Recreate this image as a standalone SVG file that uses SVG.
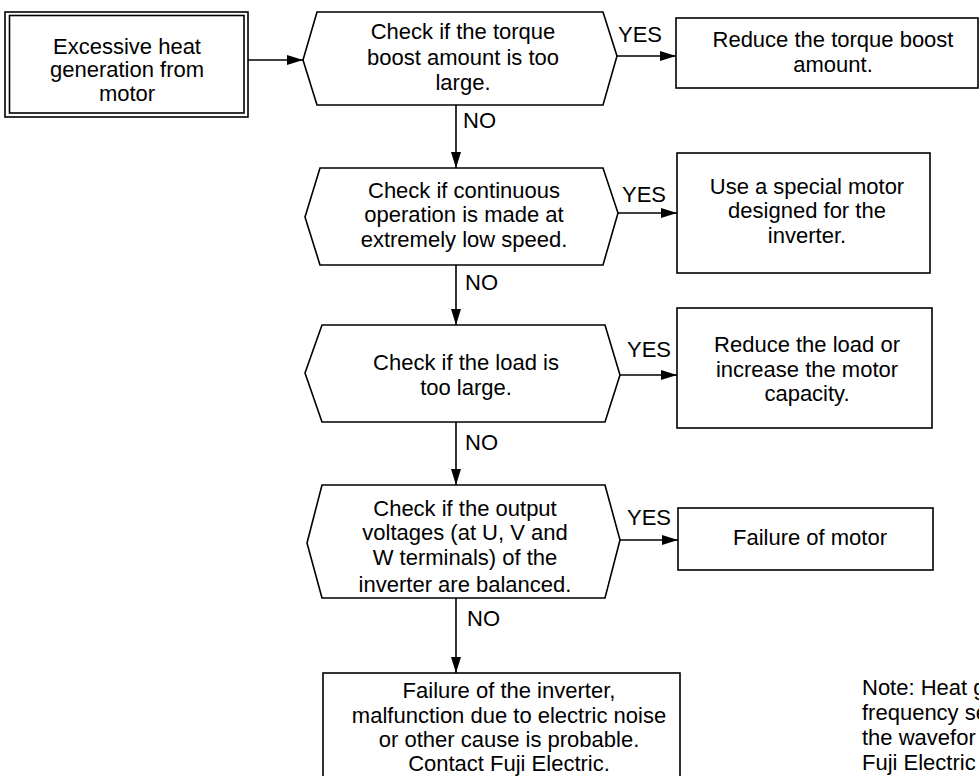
<svg xmlns="http://www.w3.org/2000/svg" width="979" height="776" viewBox="0 0 979 776">
<style>
.s{fill:#fff;stroke:#000;stroke-width:1.6}
.t{font-family:"Liberation Sans",Arial,sans-serif;font-size:22px;fill:#000}
.m{text-anchor:middle}
.c{fill:none;stroke:#000;stroke-width:1.6}
</style>
<defs>
<marker id="ah" viewBox="0 0 16 10" refX="16" refY="5" markerWidth="16" markerHeight="10" markerUnits="userSpaceOnUse" orient="auto">
<path d="M0,0 L16,5 L0,10 z" fill="#000"/>
</marker>
</defs>
<rect width="979" height="776" fill="#fff"/>
<g id="connectors">
<line class="c" x1="248" y1="60" x2="303" y2="60" marker-end="url(#ah)"/>
<line class="c" x1="617" y1="56" x2="676" y2="56" marker-end="url(#ah)"/>
<line class="c" x1="456" y1="105" x2="456" y2="168" marker-end="url(#ah)"/>
<line class="c" x1="618" y1="213" x2="677" y2="213" marker-end="url(#ah)"/>
<line class="c" x1="456" y1="265" x2="456" y2="325" marker-end="url(#ah)"/>
<line class="c" x1="620" y1="375" x2="677" y2="375" marker-end="url(#ah)"/>
<line class="c" x1="456" y1="422" x2="456" y2="485" marker-end="url(#ah)"/>
<line class="c" x1="620" y1="540" x2="678" y2="540" marker-end="url(#ah)"/>
<line class="c" x1="456" y1="598" x2="456" y2="673" marker-end="url(#ah)"/>
<text class="t" x="618" y="42">YES</text>
<text class="t" x="463" y="128">NO</text>
<text class="t" x="622" y="202">YES</text>
<text class="t" x="465" y="290">NO</text>
<text class="t" x="627" y="357">YES</text>
<text class="t" x="465" y="450">NO</text>
<text class="t" x="627" y="525">YES</text>
<text class="t" x="467" y="626">NO</text>
</g>
<g id="start">
<rect class="s" x="5" y="12" width="243" height="105"/>
<rect class="c" x="9.5" y="15.5" width="234.5" height="97.5"/>
<text class="t m" x="127" y="54">Excessive heat</text>
<text class="t m" x="127" y="77">generation from</text>
<text class="t m" x="127" y="101">motor</text>
</g>
<g id="check1">
<polygon class="s" points="303,60 317,12 603,12 617,56 603,105 317,105"/>
<text class="t m" x="463" y="39">Check if the torque</text>
<text class="t m" x="463" y="65">boost amount is too</text>
<text class="t m" x="463" y="90">large.</text>
</g>
<g id="action1">
<rect class="s" x="676" y="18" width="302" height="70"/>
<text class="t m" x="833" y="47">Reduce the torque boost</text>
<text class="t m" x="833" y="72">amount.</text>
</g>
<g id="check2">
<polygon class="s" points="305,217 320,168 603,168 618,213 603,265 320,265"/>
<text class="t m" x="464" y="198">Check if continuous</text>
<text class="t m" x="464" y="222">operation is made at</text>
<text class="t m" x="464" y="247">extremely low speed.</text>
</g>
<g id="action2">
<rect class="s" x="677" y="153" width="253" height="120"/>
<text class="t m" x="807" y="194">Use a special motor</text>
<text class="t m" x="807" y="218">designed for the</text>
<text class="t m" x="807" y="243">inverter.</text>
</g>
<g id="check3">
<polygon class="s" points="305,373 322,325 605,325 620,375 605,422 322,422"/>
<text class="t m" x="466" y="370">Check if the load is</text>
<text class="t m" x="466" y="395">too large.</text>
</g>
<g id="action3">
<rect class="s" x="677" y="308" width="255" height="120"/>
<text class="t m" x="807" y="352">Reduce the load or</text>
<text class="t m" x="807" y="377">increase the motor</text>
<text class="t m" x="807" y="401">capacity.</text>
</g>
<g id="check4">
<polygon class="s" points="307,543 322,485 605,485 620,540 605,598 322,598"/>
<text class="t m" x="465" y="516">Check if the output</text>
<text class="t m" x="465" y="540">voltages (at U, V and</text>
<text class="t m" x="465" y="565">W terminals) of the</text>
<text class="t m" x="465" y="592">inverter are balanced.</text>
</g>
<g id="action4">
<rect class="s" x="678" y="508" width="255" height="62"/>
<text class="t m" x="810" y="545">Failure of motor</text>
</g>
<g id="final">
<rect class="s" x="323" y="673" width="357" height="120"/>
<text class="t m" x="509" y="698">Failure of the inverter,</text>
<text class="t m" x="509" y="723">malfunction due to electric noise</text>
<text class="t m" x="509" y="747">or other cause is probable.</text>
<text class="t m" x="509" y="771">Contact Fuji Electric.</text>
</g>
<g id="note">
<text class="t" x="862" y="695">Note: Heat g</text>
<text class="t" x="862" y="720">frequency se</text>
<text class="t" x="862" y="745">the wavefor</text>
<text class="t" x="862" y="770">Fuji Electric</text>
</g>
</svg>
